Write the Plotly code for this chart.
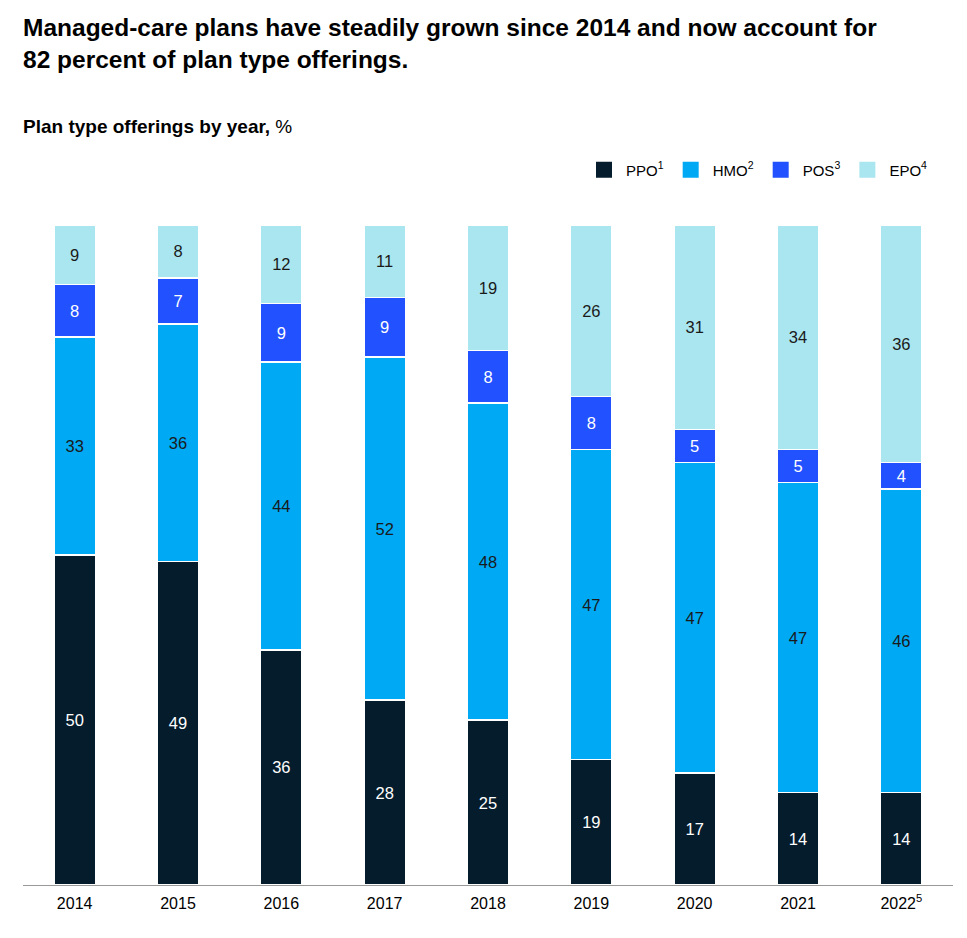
import plotly.graph_objects as go

years = ["2014", "2015", "2016", "2017", "2018", "2019", "2020", "2021", "2022<sup>5</sup>"]
ppo = [50, 49, 36, 28, 25, 19, 17, 14, 14]
hmo = [33, 36, 44, 52, 48, 47, 47, 47, 46]
pos = [8, 7, 9, 9, 8, 8, 5, 5, 4]
epo = [9, 8, 12, 11, 19, 26, 31, 34, 36]

series = [
    ("PPO<sup>1</sup>", ppo, "#051c2c", "white"),
    ("HMO<sup>2</sup>", hmo, "#00a9f4", "#1a1a1a"),
    ("POS<sup>3</sup>", pos, "#2251ff", "white"),
    ("EPO<sup>4</sup>", epo, "#aae6f0", "#1a1a1a"),
]

FONT = "Liberation Sans, Arial, sans-serif"
W, H = 959, 930  # page body has an 8px margin
fig = go.Figure()
for name, vals, color, tcolor in series:
    fig.add_trace(go.Bar(
        x=years, y=vals, name=name, showlegend=False,
        marker=dict(color=color, line=dict(color="white", width=1.5)),
        text=[str(v) for v in vals], textposition="inside",
        insidetextanchor="middle", constraintext="none",
        textfont=dict(color=tcolor, size=16.5, family=FONT),
        hoverinfo="skip",
    ))
# legend entries with larger square swatches
for name, vals, color, tcolor in series:
    fig.add_trace(go.Scatter(
        x=[None], y=[None], mode="markers", name=name,
        marker=dict(symbol="square", size=22, color=color, line=dict(width=0)),
        hoverinfo="skip",
    ))

fig.update_layout(
    barmode="stack", barnorm="percent", bargap=0.6,
    width=W, height=H,
    margin=dict(l=15, r=14, t=217, b=53),
    paper_bgcolor="white", plot_bgcolor="white",
    font=dict(family=FONT, color="#000000", size=14),
    showlegend=True,
    legend=dict(orientation="h", xref="container", yref="container",
                x=925 / W, xanchor="right", y=1 - 162 / H, yanchor="middle",
                font=dict(size=15, family=FONT), traceorder="normal",
                itemsizing="trace", itemwidth=34, tracegroupgap=0),
    xaxis=dict(showline=True, linecolor="#999999", linewidth=1, ticks="",
               ticklabelstandoff=4,
               tickfont=dict(size=16, family=FONT), showgrid=False),
    yaxis=dict(range=[0, 100], visible=False, showgrid=False),
    annotations=[
        dict(text="<b>Managed-care plans have steadily grown since 2014 and now account for<br>82 percent of plan type offerings.</b>",
             xref="paper", yref="paper", x=0, y=1, xanchor="left", yanchor="top",
             yshift=213, xshift=-2,
             showarrow=False, align="left", font=dict(size=24.5, family=FONT, color="#000000")),
        dict(text="<b>Plan type offerings by year,</b> %",
             xref="paper", yref="paper", x=0, y=1, xanchor="left", yanchor="middle",
             yshift=99, xshift=-2,
             showarrow=False, align="left", font=dict(size=19, family=FONT, color="#000000")),
    ],
)

fig.write_html("out.html")
